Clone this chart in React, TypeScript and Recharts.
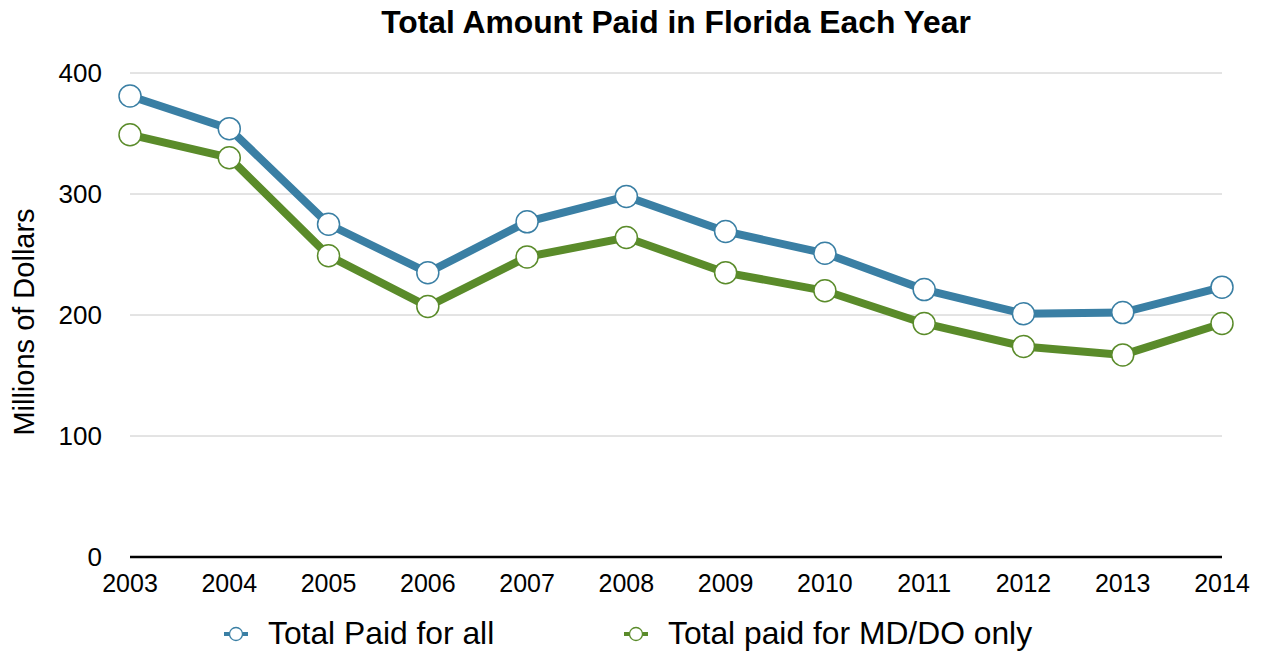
import React from 'react';
import { LineChart, Line, XAxis, YAxis, CartesianGrid } from 'recharts';

const years = ['2003', '2004', '2005', '2006', '2007', '2008', '2009', '2010', '2011', '2012', '2013', '2014'];
const totalAll = [381, 354, 275, 235, 277, 298, 269, 251, 221, 201, 202, 223];
const totalMdDo = [349, 330, 249, 207, 248, 264, 235, 220, 193, 174, 167, 193];
const yTicks = [0, 100, 200, 300, 400];

const BLUE = '#3a7fa4';
const GREEN = '#5a8b2a';
const FONT = '"Liberation Sans", Arial, Helvetica, sans-serif';

const data = years.map((year, i) => ({ year, all: totalAll[i], mddo: totalMdDo[i] }));

const seriesInfo = [
  { key: 'all', name: 'Total Paid for all', color: BLUE, legendX: 224 },
  { key: 'mddo', name: 'Total paid for MD/DO only', color: GREEN, legendX: 624 },
];

const LegendItem = ({ name, color, x }: { name: string; color: string; x: number }) => (
  <div style={{ position: 'absolute', left: x, top: 615, display: 'flex', alignItems: 'center', fontSize: 31.8, lineHeight: '37px', whiteSpace: 'nowrap' }}>
    <svg width={24} height={18} style={{ marginRight: 20 }}>
      <line x1={0} y1={9} x2={24} y2={9} stroke={color} strokeWidth={4} />
      <circle cx={12} cy={9} r={6.5} fill="#fff" stroke={color} strokeWidth={1.3} />
    </svg>
    <span style={{ color: '#000' }}>{name}</span>
  </div>
);

const App: React.FC = () => {
  return (
    <div style={{ position: 'absolute', left: 0, top: 0, width: 1265, height: 651, background: '#fff', fontFamily: FONT }}>
      <div style={{ position: 'absolute', top: 4, left: 376, width: 600, textAlign: 'center', fontSize: 31.8, fontWeight: 'bold', color: '#000', whiteSpace: 'nowrap' }}>
        Total Amount Paid in Florida Each Year
      </div>
      <div
        style={{
          position: 'absolute', left: 24, top: 322, fontSize: 29, color: '#000', whiteSpace: 'nowrap',
          transform: 'translate(-50%, -50%) rotate(-90deg)',
        }}
      >
        Millions of Dollars
      </div>
      <LineChart width={1265} height={651} data={data} margin={{ top: 73, right: 43, bottom: 54, left: 20 }}>
        <CartesianGrid horizontal vertical={false} stroke="#c8c8c8" strokeWidth={1} />
        <XAxis
          dataKey="year"
          padding={{ left: 0, right: 0 }}
          axisLine={{ stroke: '#000', strokeWidth: 2.5 }}
          tickLine={false}
          tickSize={15}
          height={40}
          tick={{ fill: '#000', fontSize: 25, fontFamily: FONT }}
          interval={0}
        />
        <YAxis
          width={110}
          domain={[0, 400]}
          ticks={yTicks}
          axisLine={false}
          tickLine={false}
          tickSize={26}
          tick={{ fill: '#000', fontSize: 26, fontFamily: FONT }}
        />
        {seriesInfo.map((s) => (
          <Line
            key={s.key}
            dataKey={s.key}
            name={s.name}
            type="linear"
            stroke={s.color}
            strokeWidth={8}
            dot={{ r: 11, fill: '#fff', stroke: s.color, strokeWidth: 1.5 }}
            activeDot={false}
            isAnimationActive={false}
          />
        ))}
      </LineChart>
      {seriesInfo.map((s) => (
        <LegendItem key={s.key} name={s.name} color={s.color} x={s.legendX} />
      ))}
    </div>
  );
};

export default App;
